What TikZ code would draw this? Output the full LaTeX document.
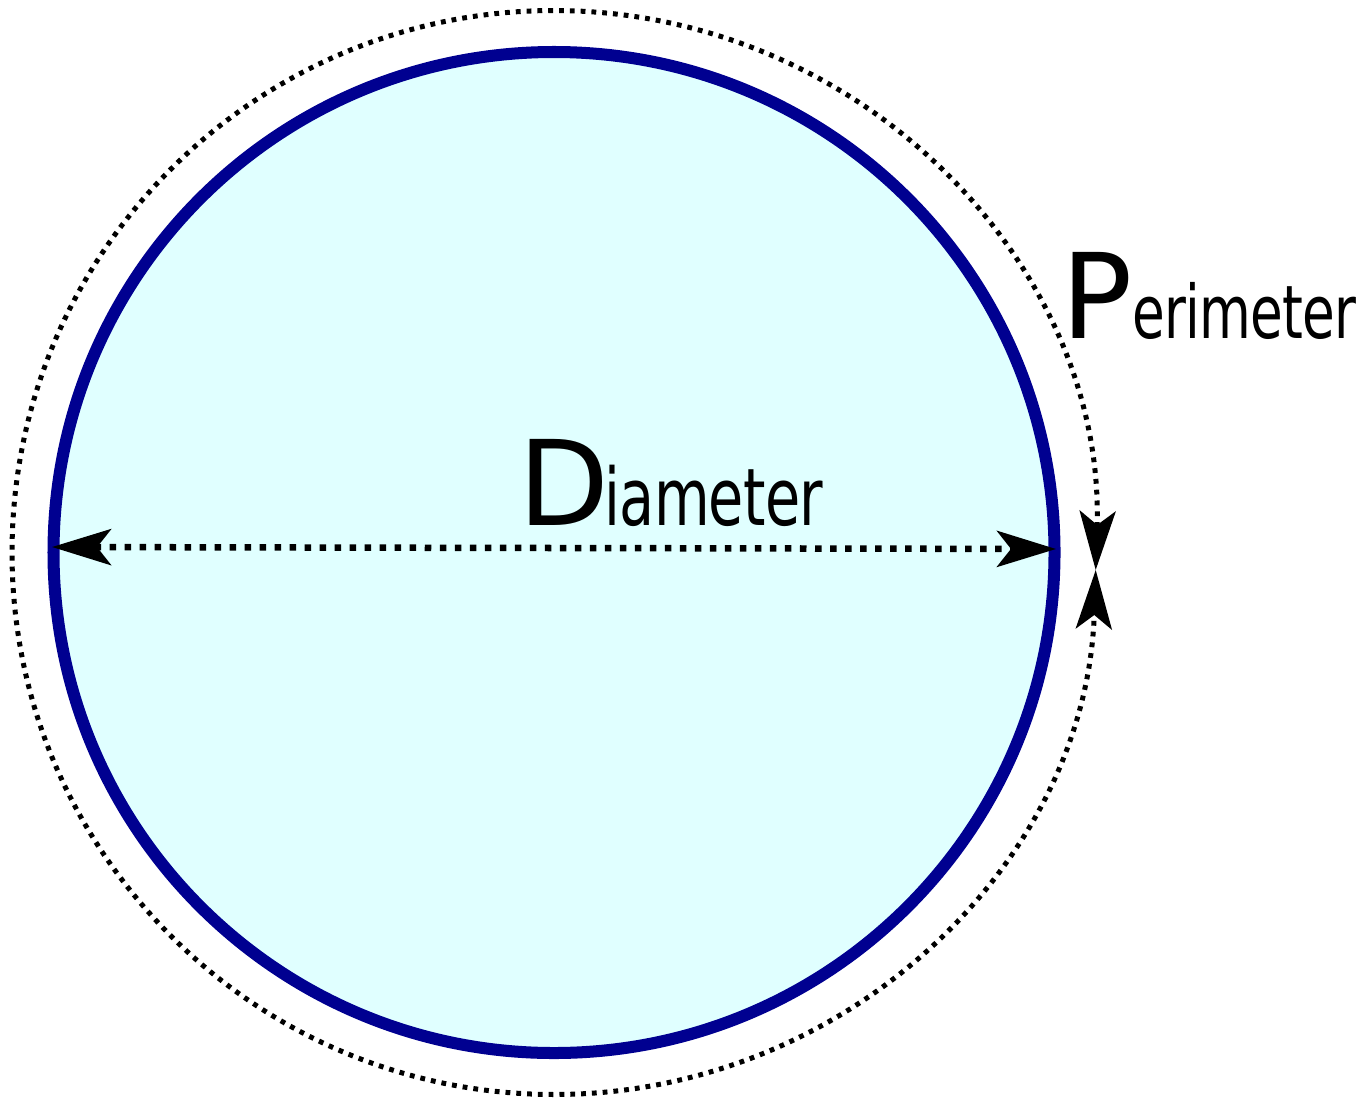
\documentclass[tikz,border=0pt]{standalone}
\usepackage{fontspec}
\usepackage{tikz}
\usetikzlibrary{arrows.meta}
\newfontfamily\capfont{DejaVu Sans}
\newfontfamily\lowfont[FakeStretch=0.8,LetterSpace=-1]{DejaVu Sans Condensed}
\definecolor{Rim}{HTML}{000090}
\definecolor{Disk}{HTML}{E0FFFF}
\newcommand{\bigword}[4]{%
  {\capfont\fontsize{33.6}{34}\selectfont #1}\kern#2{\lowfont\fontsize{#4}{#4}\selectfont #3}%
}
\tikzset{
  >={Stealth[length=0.59cm,width=0.36cm,inset=0.14cm]},
  word/.style={anchor=base west,inner sep=0pt},
  diam/.style={<->,line width=0.065cm,dash pattern=on 0.065cm off 0.085cm},
  perim/.style={<->,line width=0.05cm,dash pattern=on 0.048cm off 0.06cm}
}

\begin{document}
\begin{tikzpicture}[x=0.01cm,y=0.01cm]
        \useasboundingbox (0,0) rectangle (1368,1099);
        \coordinate (o) at (554,546.5);
        \draw[Rim,fill=Disk,line width=0.12cm] (o) circle[radius=500.5];
        % diameter across the disk
        \coordinate (dl) at (52,552);
        \coordinate (dr) at (1056,550);
        \draw[diam] (dl) -- (dr);
        \node[word] (dia) at (518,574) {\bigword{D}{-0.05cm}{iameter}{22.6}};
        % perimeter round the rim
        \draw[perim] (o) ++(-1.85:542) arc[start angle=-1.85,end angle=358.15,radius=542];
        \node[word] (per) at (1060.5,761) {\bigword{P}{0cm}{erimeter}{21}};
      \end{tikzpicture}
\end{document}
